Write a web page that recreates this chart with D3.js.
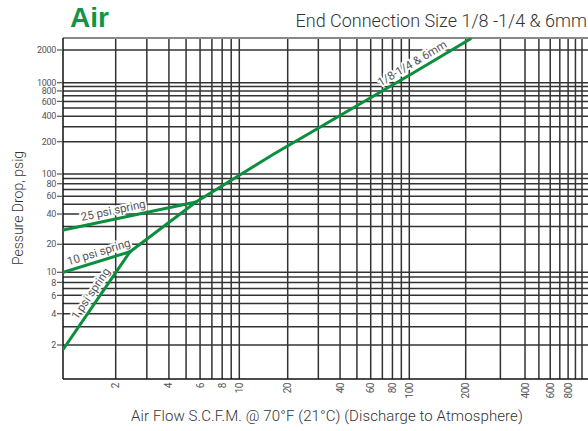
<!DOCTYPE html>
<html>
<head>
<meta charset="utf-8">
<script src="https://cdn.jsdelivr.net/npm/d3@7"></script>
<style>
    body { margin: 0; background: #fff; }
    svg text { font-family: Roboto, "Liberation Sans", sans-serif; }
</style>
</head>
<body>
<svg id="chart"></svg>
<script>
// values: air flow (SCFM) vs pressure drop (psig)
const mainLine = [[2.41, 16.65], [5.69, 52.7], [16.3, 152.6], [100, 1170], [211, 2526]];
const spring1 = [[1, 1.82], [2.41, 16.65]];
const spring10 = [[1, 10], [2.41, 16.65]];
const spring25 = [[1, 27.7], [5.69, 52.7]];

const xTickLabels = [2, 4, 6, 8, 10, 20, 40, 60, 80, 100, 200, 400, 600, 800];
const yTickLabels = [2, 4, 6, 8, 10, 20, 40, 60, 80, 100, 200, 400, 600, 800, 1000, 2000];

const xGrid = [2, 3, 4, 5, 6, 7, 8, 9, 10, 20, 30, 40, 50, 60, 70, 80, 90, 100, 200, 300, 400, 500, 600, 700, 800, 900, 1000];
const yGrid = [2, 3, 4, 5, 6, 7, 8, 9, 10, 20, 30, 40, 50, 60, 70, 80, 90, 100, 200, 300, 400, 500, 600, 700, 800, 900, 1000, 2000];

const W = 588, H = 431;
const plot = { left: 63, right: 588, top: 38, bottom: 379 };
const green = '#0b8e3e';

const svg = d3.select('#chart').attr('width', W).attr('height', H);

// the printed grid is not a perfect log grid, so the scale is pinned at a few gridlines
const x = d3.scaleLog()
    .domain([1, 2, 10, 20, 100, 200, 400, 1000])
    .range([63.3, 115.7, 239.3, 287.7, 409.3, 465.7, 525, 582]);
const y = d3.scaleLog()
    .domain([1, 2, 10, 20, 100, 200, 1000, 2000])
    .range([376.3, 345, 272.3, 244.3, 174, 141.7, 82.7, 50]);

// titles
svg.append('text')
    .attr('x', 70).attr('y', 27)
    .style('font-family', '"Liberation Sans", Arial, sans-serif')
    .style('font-weight', 'bold')
    .style('font-size', '28px')
    .attr('fill', '#129447')
    .text('Air');

svg.append('text')
    .attr('x', 587).attr('y', 27)
    .attr('text-anchor', 'end')
    .style('font-size', '18px')
    .style('font-weight', 300)
    .attr('fill', '#333')
    .text('End Connection Size 1/8 -1/4 & 6mm');

// grid
const grid = svg.append('g');
grid.selectAll('.vline')
    .data(xGrid)
    .enter()
    .append('line')
    .attr('class', 'vline')
    .attr('x1', d => x(d)).attr('x2', d => x(d))
    .attr('y1', plot.top).attr('y2', plot.bottom)
    .attr('stroke', '#333')
    .attr('stroke-width', 1.5);

grid.selectAll('.hline')
    .data(yGrid)
    .enter()
    .append('line')
    .attr('class', 'hline')
    .attr('x1', plot.left).attr('x2', plot.right)
    .attr('y1', d => y(d)).attr('y2', d => y(d))
    .attr('stroke', '#333')
    .attr('stroke-width', 1.5);

// frame
grid.append('line')
    .attr('x1', plot.left).attr('x2', plot.right).attr('y1', plot.top).attr('y2', plot.top)
    .attr('stroke', '#888').attr('stroke-width', 2);
grid.append('line')
    .attr('x1', plot.left).attr('x2', plot.right).attr('y1', plot.bottom).attr('y2', plot.bottom)
    .attr('stroke', '#111').attr('stroke-width', 1.5);
grid.append('line')
    .attr('x1', plot.left).attr('x2', plot.left).attr('y1', plot.top).attr('y2', plot.bottom)
    .attr('stroke', '#111').attr('stroke-width', 1.5);

// y ticks + labels
const yAxis = svg.append('g');
yAxis.selectAll('line')
    .data(yTickLabels)
    .enter()
    .append('line')
    .attr('x1', 57).attr('x2', plot.left)
    .attr('y1', d => y(d)).attr('y2', d => y(d))
    .attr('stroke', '#555')
    .attr('stroke-width', 1.2);
yAxis.selectAll('text')
    .data(yTickLabels)
    .enter()
    .append('text')
    .attr('x', 56)
    .attr('y', d => y(d))
    .attr('dy', '0.35em')
    .attr('text-anchor', 'end')
    .style('font-size', '9px')
    .style('letter-spacing', '-0.3px')
    .attr('fill', '#555')
    .text(d => d);

// x labels, rotated
svg.append('g').selectAll('text')
    .data(xTickLabels)
    .enter()
    .append('text')
    .attr('transform', d => `translate(${x(d)},383) rotate(-90)`)
    .attr('dy', '0.35em')
    .attr('text-anchor', 'end')
    .style('font-size', '10px')
    .style('letter-spacing', '-0.5px')
    .attr('fill', '#555')
    .text(d => d);

// axis titles
svg.append('text')
    .attr('x', 327).attr('y', 421)
    .attr('text-anchor', 'middle')
    .style('font-size', '15px')
    .style('font-weight', 300)
    .style('letter-spacing', '0.1px')
    .attr('fill', '#333')
    .text('Air Flow S.C.F.M. @ 70°F (21°C) (Discharge to Atmosphere)');

svg.append('text')
    .attr('transform', 'translate(23,208) rotate(-90)')
    .attr('text-anchor', 'middle')
    .style('font-size', '14px')
    .style('font-weight', 300)
    .attr('fill', '#333')
    .text('Pessure Drop, psig');

// curve labels sit along a segment of their curve
const labels = svg.append('g');
function curveLabel(series, i, t, txt) {
    let x0 = x(series[i][0]), y0 = y(series[i][1]);
    let x1 = x(series[i + 1][0]), y1 = y(series[i + 1][1]);
    let px = x0 + (x1 - x0) * t, py = y0 + (y1 - y0) * t;
    let ang = Math.atan2(y1 - y0, x1 - x0) * 180 / Math.PI;
    labels.append('text')
        .attr('transform', `translate(${px},${py}) rotate(${ang})`)
        .attr('dy', -5)
        .attr('text-anchor', 'middle')
        .style('font-size', '11.5px')
        .attr('fill', '#555')
        .attr('stroke', '#fff')
        .attr('stroke-width', 4)
        .attr('stroke-linejoin', 'round')
        .style('paint-order', 'stroke')
        .text(txt);
}
curveLabel(spring25, 0, 0.39, '25 psi spring');
curveLabel(spring10, 0, 0.57, '10 psi spring');
curveLabel(spring1, 0, 0.52, '1 psi spring');
curveLabel(mainLine, 3, 0.12, '1/8-1/4 & 6mm');

// curves
svg.append('clipPath').attr('id', 'plotClip')
    .append('rect')
    .attr('x', plot.left).attr('y', plot.top)
    .attr('width', plot.right - plot.left).attr('height', plot.bottom - plot.top);

const line = d3.line()
    .x(d => x(d[0]))
    .y(d => y(d[1]));

svg.append('g')
    .attr('clip-path', 'url(#plotClip)')
    .selectAll('path')
    .data([mainLine, spring1, spring10, spring25])
    .enter()
    .append('path')
    .attr('d', line)
    .attr('fill', 'none')
    .attr('stroke', green)
    .attr('stroke-width', 3)
    .attr('stroke-linecap', 'round');
</script>
</body>
</html>
